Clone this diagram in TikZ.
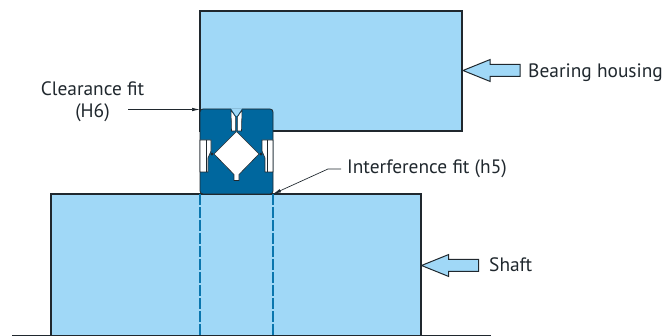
\documentclass[tikz,border=0pt]{standalone}
\usepackage{fontspec}
\setmainfont{PT Sans}
\usetikzlibrary{positioning,shapes.arrows,arrows.meta}
\definecolor{partblue}{HTML}{A0D8F7}
\definecolor{ringblue}{HTML}{00679E}
\definecolor{lineblue}{HTML}{0A76AE}
\definecolor{inkgrey}{HTML}{20282E}

\begin{document}
\begin{tikzpicture}[x=1pt,y=-1pt,
	part/.style={rectangle, draw=inkgrey, fill=partblue, line width=1.2pt, anchor=north west, inner sep=0pt, outer sep=0pt},
	pointer/.style={single arrow, draw=inkgrey, fill=partblue, line width=1pt, shape border rotate=180,
		single arrow head extend=5pt, single arrow tip angle=44, inner xsep=0pt, inner ysep=5.5pt, outer sep=0pt,
		minimum height=57pt, minimum width=21pt, anchor=tip},
	label/.style={text=inkgrey, font=\fontsize{19.4}{22}\selectfont, inner sep=0pt},
	leader/.style={draw=inkgrey, line width=.7pt, -{Latex[length=8pt,width=3.5pt]}},
	hollow/.style={fill=white, draw=inkgrey, line width=.6pt, line join=round},
	centreline/.style={draw=lineblue, line width=1.1pt, dash pattern=on 11pt off 2pt}
	]

	\useasboundingbox (0,0) rectangle (672,336);

	% housing and shaft
	\node (housing) [part, minimum width=262pt, minimum height=120pt] at (200,11) {};
	\node (shaft) [part, minimum width=370pt, minimum height=142pt] at (51,194) {};
	\coordinate (baseleft) at (12,335.5);
	\coordinate (baseright) at (491,335.5);
	\draw [draw=inkgrey, line width=.8pt] (baseleft)--(baseright);

	% ring
	\node (ring) [part, fill=ringblue, line width=.8pt, rounded corners=3pt, minimum width=73pt, minimum height=85pt] at (200,109) {};
	% seal slot, top
	\fill [partblue] (231,108.5)--(242,108.5)--(237,116)--(236,116)--cycle;
	\draw [hollow] (231,110)--(235.7,117)--(235.7,131)--(231.5,131)--cycle;
	\draw [hollow] (242,110)--(237.3,117)--(237.3,131)--(241.5,131)--cycle;
	% roller space
	\draw [hollow] (236.5,131.5)--(259,154)--(239,174.5)--(239,180.5)--(234,180.5)--(234,174.5)--(214,154)--cycle;
	% side slots
	\draw [hollow] (200,140)--(211,140)--(211,151)--(208,158)--(208,172)--(200,172)--cycle;
	\draw [hollow] (273,140)--(262,140)--(262,151)--(265,158)--(265,172)--(273,172)--cycle;
	\draw [draw=inkgrey, line width=.5pt] (206,140)--(206,172) (267,140)--(267,172);
	\fill [inkgrey] (212,154) circle (1.6pt) (261,154) circle (1.6pt);

	% centre lines
	\draw [centreline] (ring.south west)--(ring.south west |- shaft.south);
	\draw [centreline] (ring.south east)--(ring.south east |- shaft.south);

	% labels
	\node (housinglabel) [label, anchor=base west] at (528,77.5) {Bearing housing};
	\node (shaftlabel) [label, anchor=base west] at (489,271.5) {Shaft};
	\node (fitlabel) [label, anchor=base west] at (347,173.5) {Interference fit (h5)};
	\node (clearlabel) [label, align=center, anchor=base] at (92.5,118) {Clearance fit\\(H6)};

	\node (housingarrow) [pointer] at (463,70.5) {};
	\node (shaftarrow) [pointer] at (421.5,265.5) {};

	\coordinate (clearstart) at (128,109.5);
	\coordinate (fitbend) at (328,169);
	\coordinate (fitstart) at (341,169);
	\draw [leader] (clearstart)--(clearstart -| ring.north west);
	\draw [leader] (fitstart)--(fitbend)--(ring.south east);
\end{tikzpicture}
\end{document}
